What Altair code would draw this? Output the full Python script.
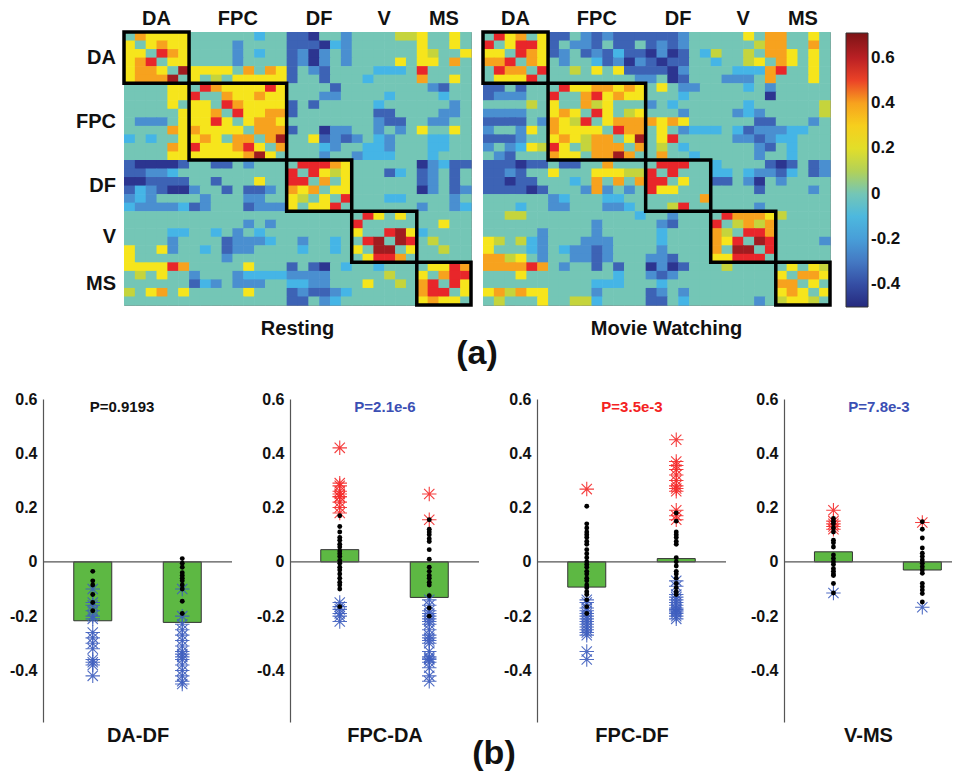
import altair as alt
import pandas as pd

FONT = "Liberation Sans"

# ---------------- heatmap data (32 x 32, read cell by cell) ----------------
groups = ["DA", "FPC", "DF", "V", "MS"]
group_sizes = [6, 9, 6, 6, 5]

level_codes = [".", "c", "b", "B", "N", "g", "y", "o", "r", "R"]
level_values = [0.0, -0.12, -0.25, -0.35, -0.46, 0.13, 0.25, 0.40, 0.53, 0.64]

resting_rows = [
    ".oyyyy" "......c.." "BBN..b" "....gg" "y..y.",
    "y.yoyy" "....b...." "BBBNcb" "......" "y..y.",
    "yy.roy" "....b.c.." "BbNb.b" "......" "yg..y",
    "yor.yy" "....b...." "BbNb.b" "....y." "yy.o.",
    "yooy.R" "yyyy.o.oy" "B.bB.." "..ccc." "r....",
    "yoooR." "y.g.yyyyy" "B..B.." ".c...." "o..y.",
    "....yy" ".royyyyry" "....B." "......" ".bB..",
    "....yy" "r..oyyoyy" "...bb." "...c.." "..c..",
    "....y." "yy.royyyy" "B.B..." "..c..." "...b.",
    ".....y" "yyo.ryyoo" "B....." "..BB.." "..bb.",
    ".bbb.y" "yyry.yooy" "......" "..bBB." ".bb..",
    "....oy" "oyyyy.ooo" "B..Nbb" "..b.b." "y..y.",
    "c.c..y" "yoy.oo.oR" "..yBbB" "b.cb.." ".cc..",
    "....oy" "ryyyory.o" "...cb." ".ccb.." ".cc..",
    "....yy" "yyyyyoRy." "...b.." "bccc.." ".c...",
    "BNNNNB" "..BB.b..." ".rrroy" "......" "NbcBB",
    "BBbbc." "........." "r.rygy" "...Bc." "Bb.B.",
    "NNBBBB" "..B...y.." "rr.o.y" "......" "Bb.B.",
    "BcbBNN" "b..B.BBb." "oyo.yy" "......" "Nb.Bb",
    "bcb..." ".b...bb.." "yg.y.r" "...cc." "...b.",
    "cbbbbc" "Bb...Bbbb" "y.yyr." "......" "b..bc",
    "......" "........." "......" ".ry.y." ".....",
    "......" ".....b.b." "......" "r....." "..y..",
    "....cc" "..c.b.c.." "......" "y..rRy" "c....",
    "....b." "...Bbbbc." ".b..c." ".rR.Rr" ".g...",
    "y..yb." ".c.Bbb..." ".c..c." "y.RR.y" "..g..",
    "y....." "...b....." "......" ".yrro." ".....",
    "yyyyro" ".....y..." "B.BN.c" "..c..." ".yyro",
    ".g.y.." "b...bcccc" "bbbb.." "...g.." "y.orr",
    "......" "Bcb.bbb.." "ccbb.." ".y..g." "or.ry",
    "g.yo.y" ".....y..." "BbBBbc" "......" "orr.y",
    "......" "........." "BB.bc." "......" "yoyy.",
]

movie_rows = [
    ".ryo.y" "BB.bBbBBB" "BBBb.." "...y.o" "o..y.",
    "r.yrry" "B.bbB.BB." "BbBb.." "....go" "o..o.",
    "yy.roy" "Bb.BbBcBB" "NbNB.c" "g..g.o" "oy.y.",
    "oor.oy" ".b..cBbNb" "BNBB.." "c..gy." "oy.y.",
    ".roo.r" "..g.y.yBB" "BBNb.." "..ccco" "r..y.",
    ".yyyr." "........b" "b.NB.." ".bbb.o" "...y.",
    "BB.B.." ".ryyooyoy" ".y.bb." "...c.b" ".....",
    "Bbbb.." "r..oryoyy" "...c.." ".....N" ".....",
    "....g." "y..ogy..." "b.c..." "...c.." "....g",
    "bbbb.." "yoy.ry.gy" "...b.." "..bcb." "....g",
    "BBBB.b" "oygr.yooo" "oyoy.." "....BB" "...b.",
    "b..by." "oyyyy.roo" ".y.bcc" "c.cBbb" "bcc..",
    "BBBb.." "yoygoo.yR" ".yr..." "..bbBb" "cc...",
    "b.bcyg" "ry.gooo.o" ".g.c.." "....bB" ".c...",
    ".bB..." "oyy.ooRo." ".o..c." "....b." ".c...",
    "BBBNBB" ".BB..o..." ".rrr.." "c....B" "NB.Bb",
    "BBbB.." "y...yyygg" "r.r..." "cc.cbb" "Bc.Bb",
    "BBNBB." "..c.o.o.o" "rr.y.." "BB.bN." "b....",
    "BBBBNB" "...bob.b." "ryy..." "....B." "...b.",
    "......" "bc...cc.." ".....o" "......" ".....",
    "...c.." "bb...bbc." "..gr.." "....b." ".....",
    "..gg.." "........c" "..b..." ".roooy" "g....",
    "......" "....b...." ".bB..." "r.gogo" ".....",
    ".....b" "....b...." ".c...." "og.rro" ".....",
    "yg.gcb" "...bbb..." ".c...." "oyr.Rr" "....b",
    "y...cb" ".cbbBb..." ".b...." "o.RR.r" ".....",
    "oogy.b" "..bbBb..." "bbB..." "yyrrr." ".....",
    "ooooro" ".b..B.B.." "NbNB.." ".g...." ".y.yg",
    "...y.." "......c.." "bBb..." "......" "y.ooy",
    "......" "....ccc.." ".c...." "......" "oo.y.",
    "yogoyy" "....b...." "Bb.b.." "......" "yoy.y",
    ".g...y" "..ggc...." "BB.c.." "....b." "gyyg.",
]

cbar_ticks = [-0.4, -0.2, 0.0, 0.2, 0.4, 0.6]

# ---------------- bar panels data ----------------
pair_names = ["DA-DF", "FPC-DA", "FPC-DF", "V-MS"]
p_labels = ["P=0.9193", "P=2.1e-6", "P=3.5e-3", "P=7.8e-3"]
p_colors = ["#111111", "#3b4fb4", "#f42222", "#3b4fb4"]
bar_rest = [-0.217, 0.045, -0.093, 0.037]
bar_movie = [-0.223, -0.131, 0.012, -0.030]

rest_black = [
    [-0.035, -0.07, -0.085, -0.12, -0.15, -0.18],
    [0.17, 0.13, 0.11, 0.09, 0.08, 0.065, 0.055, 0.04, 0.03, 0.02, 0.005, -0.005,
     -0.02, -0.03, -0.045, -0.06, -0.075, -0.085, -0.10, -0.165],
    [0.205, 0.14, 0.125, 0.11, 0.10, 0.09, 0.075, 0.065, 0.045, 0.03, 0.015, 0.0,
     -0.01, -0.02, -0.035, -0.045, -0.06, -0.07, -0.085, -0.095, -0.11, -0.12,
     -0.14, -0.165, -0.19],
    [0.16, 0.15, 0.14, 0.125, 0.11, 0.08, 0.07, 0.055, 0.025, 0.012, 0.0, -0.01,
     -0.025, -0.035, -0.045, -0.05, -0.08, -0.115],
]
rest_red = [
    [],
    [0.42, 0.29, 0.28, 0.26, 0.25, 0.24, 0.24, 0.22, 0.20, 0.18],
    [0.268],
    [0.19, 0.15, 0.14, 0.13, 0.12],
]
rest_blue = [
    [-0.10, -0.15, -0.16, -0.18, -0.20, -0.21, -0.26, -0.28, -0.30, -0.32, -0.36,
     -0.37, -0.38, -0.42],
    [-0.15, -0.165, -0.175, -0.19, -0.20, -0.22],
    [-0.14, -0.15, -0.17, -0.18, -0.19, -0.20, -0.21, -0.22, -0.23, -0.24, -0.25,
     -0.26, -0.27, -0.33, -0.36],
    [-0.115],
]
movie_black = [
    [0.012, -0.005, -0.02, -0.04, -0.05, -0.06, -0.07, -0.085, -0.10, -0.145, -0.19],
    [0.155, 0.12, 0.11, 0.10, 0.085, 0.075, 0.045, 0.01, -0.02, -0.035, -0.05,
     -0.06, -0.075, -0.085, -0.125, -0.17, -0.20],
    [0.18, 0.15, 0.11, 0.10, 0.09, 0.075, 0.065, 0.015, 0.0, -0.015, -0.035,
     -0.045, -0.06, -0.08, -0.095, -0.11, -0.12],
    [0.148, 0.12, 0.088, 0.051, 0.032, 0.02, 0.007, -0.005, -0.018, -0.03, -0.042,
     -0.08, -0.092, -0.104, -0.117, -0.148],
]
movie_red = [
    [],
    [0.25, 0.155],
    [0.45, 0.37, 0.355, 0.34, 0.32, 0.30, 0.28, 0.27, 0.26, 0.19, 0.17, 0.155],
    [0.145],
]
movie_blue = [
    [-0.10, -0.20, -0.23, -0.25, -0.27, -0.29, -0.31, -0.33, -0.34, -0.35, -0.36,
     -0.38, -0.40, -0.42, -0.44, -0.45],
    [-0.14, -0.16, -0.18, -0.19, -0.20, -0.21, -0.22, -0.23, -0.25, -0.27, -0.28,
     -0.29, -0.30, -0.33, -0.35, -0.355, -0.36, -0.37, -0.39, -0.42, -0.44],
    [-0.07, -0.09, -0.12, -0.13, -0.14, -0.15, -0.16, -0.17, -0.175, -0.18,
     -0.185, -0.19, -0.20, -0.21],
    [-0.167],
]
bar_ticks = [-0.4, -0.2, 0.0, 0.2, 0.4, 0.6]

# ---------------- styling ----------------
cmap_domain = [-0.5, -0.46, -0.35, -0.25, -0.12, 0.0, 0.13, 0.25, 0.40, 0.53, 0.64, 0.71]
cmap_range = ["#262a7e", "#2c3590", "#3d63b5", "#4a8fd0", "#45b5e6", "#74c6b6",
              "#c5d43c", "#f6e51c", "#f7a21e", "#e8262a", "#a01c20", "#7d1416"]
cscale = alt.Scale(domain=cmap_domain, range=cmap_range, interpolate="rgb")
LBL = "datum.value == 0 ? '0' : replace(format(datum.value, '.1f'), '\u2212', '-')"
NOFRAME = alt.ViewBackground(stroke="transparent", strokeWidth=0)

code_value = dict(zip(level_codes, level_values))

starts = [sum(group_sizes[:k]) for k in range(len(group_sizes))]
gdf = pd.DataFrame({
    "name": groups,
    "start": starts,
    "end": [s + n for s, n in zip(starts, group_sizes)],
    "center": [s + n / 2 for s, n in zip(starts, group_sizes)],
})
N = sum(group_sizes)

legend = alt.Legend(type="gradient", orient="none", legendX=803, legendY=1,
                    direction="vertical", title=None, gradientLength=274,
                    gradientThickness=22, values=cbar_ticks, labelExpr=LBL,
                    labelFontSize=17, labelFontWeight="bold", labelFont=FONT,
                    labelColor="#111", labelOffset=3, labelOverlap=False,
                    gradientStrokeColor="#333", gradientStrokeWidth=1, padding=0)


def heat_df(rows):
    recs = []
    for i, s in enumerate(rows):
        assert len(s) == N, (i, len(s))
        for j, ch in enumerate(s):
            recs.append({"row": i, "row2": i + 1, "col": j, "col2": j + 1,
                         "v": code_value[ch]})
    return pd.DataFrame(recs)


def heatmap(rows, title, tdx, with_left):
    xs = alt.Scale(domain=[0, N], nice=False, zero=False)
    ys = alt.Scale(domain=[0, N], nice=False, zero=False, reverse=True)
    # small overlap offsets hide anti-aliasing seams between neighbouring cells
    cells = alt.Chart(heat_df(rows)).mark_rect(x2Offset=0.6, y2Offset=0.6).encode(
        x=alt.X("col:Q", scale=xs, axis=None), x2="col2:Q",
        y=alt.Y("row:Q", scale=ys, axis=None), y2="row2:Q",
        color=alt.Color("v:Q", scale=cscale, legend=legend),
    )
    boxes = alt.Chart(gdf).mark_rect(fillOpacity=0, stroke="black", strokeWidth=3.5).encode(
        x=alt.X("start:Q", scale=xs, axis=None), x2="end:Q",
        y=alt.Y("start:Q", scale=ys, axis=None), y2="end:Q",
    )
    toplab = alt.Chart(gdf).mark_text(fontSize=20, fontWeight="bold", font=FONT,
                                      baseline="alphabetic", color="#111").encode(
        x=alt.X("center:Q", scale=xs, axis=None), y=alt.value(-7), text="name:N")
    layers = [cells, boxes, toplab]
    if with_left:
        leftlab = alt.Chart(gdf).mark_text(fontSize=20, fontWeight="bold", font=FONT,
                                           align="right", baseline="middle",
                                           color="#111").encode(
            y=alt.Y("center:Q", scale=ys, axis=None), x=alt.value(-8), text="name:N")
        layers.append(leftlab)
    return alt.layer(*layers).properties(
        width=347, height=273,
        view=alt.ViewBackground(stroke="#888", strokeWidth=1),
        title=alt.TitleParams(title, orient="bottom", offset=12, fontSize=20,
                              fontWeight="bold", font=FONT, color="#111", dx=tdx,
                              frame="group"),
    )


# invisible spacer that gives the top row the same left extent as the bottom row;
# it also carries the "(a)" panel label
spacer_base = alt.Chart(pd.DataFrame({"t": [" "]})).mark_text(
    opacity=0, align="left").encode(text="t:N", x=alt.value(-35), y=alt.value(10))
a_text = alt.Chart(pd.DataFrame({"t": ["(a)"]})).mark_text(
    fontSize=34, fontWeight="bold", font=FONT, color="#111").encode(
    x=alt.value(434), y=alt.value(322), text="t:N")
spacer = alt.layer(spacer_base, a_text).properties(width=69, height=273, view=NOFRAME)

top_row = alt.hconcat(
    spacer,
    heatmap(resting_rows, "Resting", 0, True),
    heatmap(movie_rows, "Movie Watching", 10, False),
    spacing=12, bounds="flush",
)


def points_df(vals, cond):
    return pd.DataFrame({"cond": [cond] * len(vals), "v": vals})


STAR = "M-1,0L1,0M0,-1L0,1M-0.71,-0.71L0.71,0.71M-0.71,0.71L0.71,-0.71"


def panel(k):
    w = 189 if k < 3 else 168
    xs = alt.Scale(domain=[0.5, 0.5 + w / 94.5], nice=False, zero=False)
    ys = alt.Scale(domain=[-0.59, 0.6], nice=False, zero=False)
    xa = alt.Axis(title=pair_names[k], domain=False, ticks=False, labels=False,
                  grid=False, titleFontSize=20, titleFontWeight="bold", titleFont=FONT,
                  titleColor="#111", titlePadding=3)
    ya = alt.Axis(title=None, values=bar_ticks, labelExpr=LBL, labelFontSize=16,
                  labelFontWeight="bold", labelFont=FONT, labelColor="#111",
                  domainColor="#555", domainWidth=1.2, ticks=False, grid=False,
                  labelPadding=6, minExtent=35, maxExtent=35)
    X = alt.X("cond:Q", scale=xs, axis=xa)
    Y = alt.Y("v:Q", scale=ys, axis=ya)

    bars_df = pd.DataFrame({"cond": [1, 2], "v": [bar_rest[k], bar_movie[k]]})
    layers = [
        alt.Chart(bars_df).mark_bar(size=38, color="#5db843", stroke="#333",
                                    strokeWidth=1).encode(x=X, y=Y, y2=alt.datum(0)),
        alt.Chart(pd.DataFrame({"v": [0.0]})).mark_rule(color="#555",
                                                        strokeWidth=1.2).encode(y=Y),
    ]
    blue = pd.concat([points_df(rest_blue[k], 1), points_df(movie_blue[k], 2)])
    red = pd.concat([points_df(rest_red[k], 1), points_df(movie_red[k], 2)])
    black = pd.concat([points_df(rest_black[k], 1), points_df(movie_black[k], 2)])
    if len(blue):
        layers.append(alt.Chart(blue).mark_point(shape=STAR, filled=False, size=210,
                                                 stroke="#3f5fbf", strokeWidth=1.1,
                                                 opacity=0.9).encode(x=X, y=Y))
    if len(red):
        layers.append(alt.Chart(red).mark_point(shape=STAR, filled=False, size=210,
                                                stroke="#f52a2a", strokeWidth=1.1,
                                                opacity=0.9).encode(x=X, y=Y))
    if len(black):
        layers.append(alt.Chart(black).mark_circle(size=24, color="#000",
                                                   opacity=1).encode(x=X, y=Y))
    px = 79 if k == 0 else 95
    layers.append(alt.Chart(pd.DataFrame({"t": [p_labels[k]]})).mark_text(
        fontSize=15, fontWeight="bold", font=FONT, color=p_colors[k]).encode(
        x=alt.value(px), y=alt.value(8), text="t:N"))
    if k == 1:
        layers.append(alt.Chart(pd.DataFrame({"t": ["(b)"]})).mark_text(
            fontSize=34, fontWeight="bold", font=FONT, color="#111").encode(
            x=alt.value(204), y=alt.value(355), text="t:N"))
    return alt.layer(*layers).properties(width=w, height=323, view=NOFRAME)


bottom_row = alt.hconcat(*[panel(k) for k in range(4)], spacing=58, bounds="flush")

chart = alt.vconcat(top_row, bottom_row, spacing=20).properties(
    padding=0
).configure_view(stroke="transparent", strokeWidth=0).configure(
    font=FONT
).configure_legend(gradientVerticalMaxLength=400)

chart.save("out.html", embed_options={"renderer": "svg", "actions": False})
